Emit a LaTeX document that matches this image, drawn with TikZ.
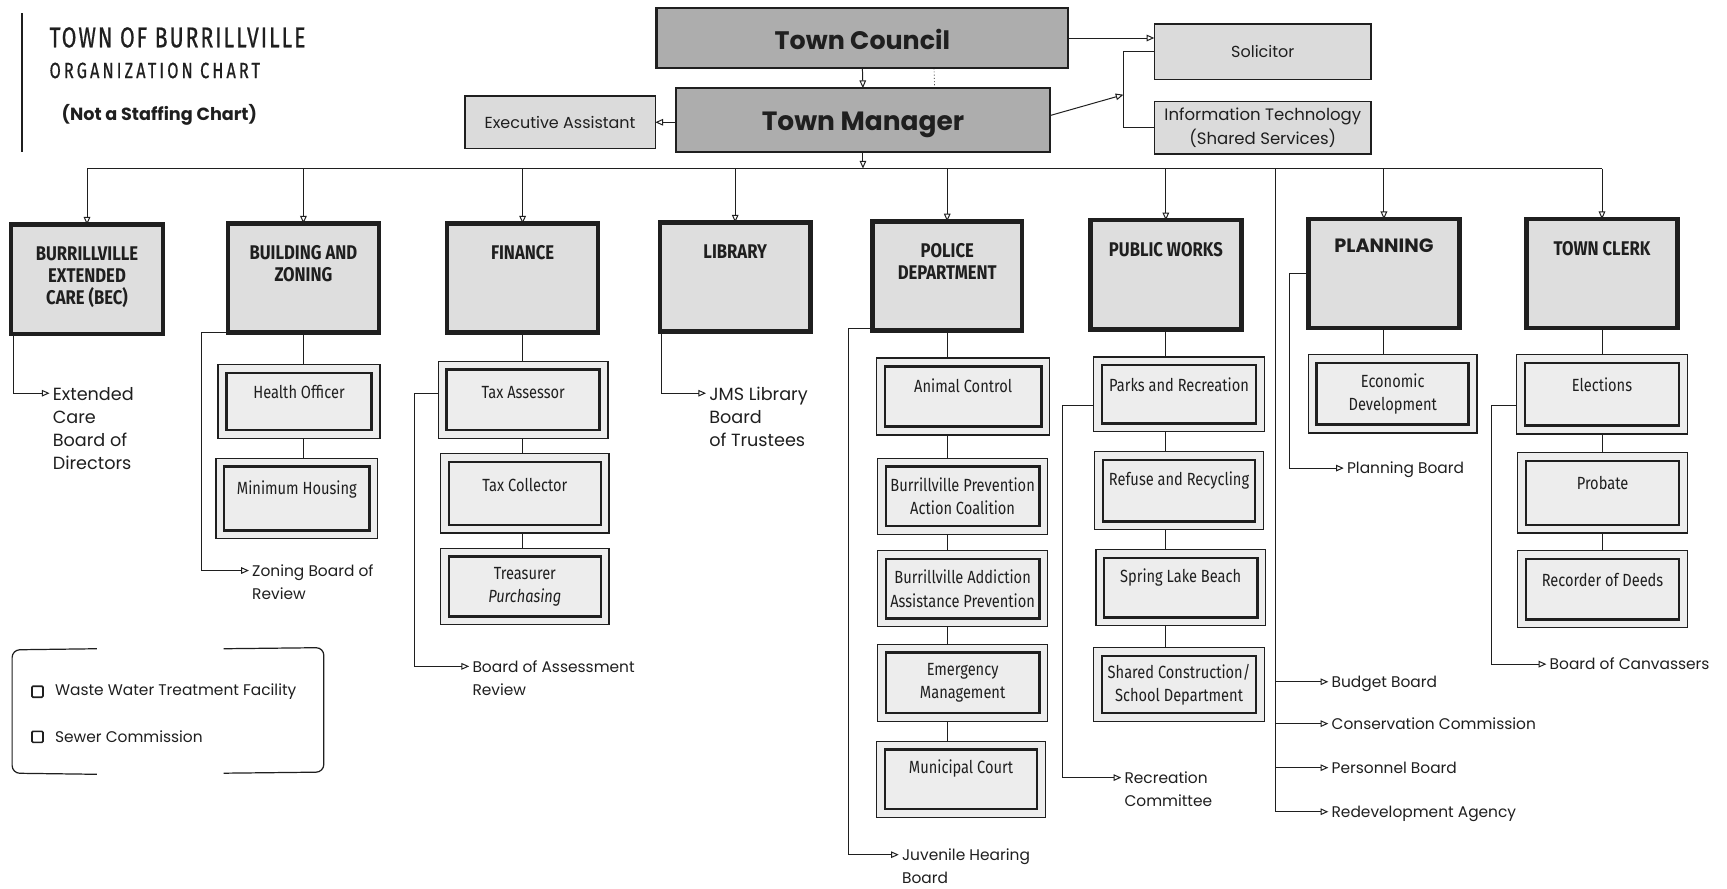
\documentclass[tikz,border=0pt]{standalone}
\usepackage{fontspec}
\setmainfont{Poppins}
\newfontfamily\condf[FakeStretch=0.83]{Fira Sans}
\newfontfamily\deptf[FakeStretch=0.84]{Fira Sans}
\newfontfamily\titlef[FakeStretch=0.74,LetterSpace=7,FakeBold=0.6]{Fira Sans}
\newfontfamily\titleg[FakeStretch=0.74,LetterSpace=14,FakeBold=0.6]{Fira Sans}
\usetikzlibrary{arrows.meta,calc}
\definecolor{inkc}{gray}{0.12}
\definecolor{topfill}{gray}{0.68}
\definecolor{asstfill}{gray}{0.86}
\definecolor{deptfill}{gray}{0.87}
\definecolor{subfill}{gray}{0.93}
\tikzset{
 every node/.style={inner sep=0pt, outer sep=0pt, text=inkc},
 topbox/.style={draw=inkc, line width=2pt, fill=topfill},
 asstbox/.style={draw=inkc, line width=1.4pt, fill=asstfill},
 deptbox/.style={draw=inkc, line width=4pt, fill=deptfill},
 subout/.style={draw=inkc, line width=1.2pt, fill=subfill},
 subin/.style={draw=inkc, line width=2.4pt},
 subtxt/.style={font={\condf\fontsize{16}{21}\selectfont}, align=center},
 depttxt/.style={font={\deptf\bfseries\fontsize{18}{20}\selectfont}, align=center, anchor=north},
 lbl/.style={font={\fontsize{14}{21}\selectfont}, align=left, outer sep=3pt},
 biglbl/.style={lbl, font={\fontsize{16}{21}\selectfont}},
 conn/.style={draw=inkc, line width=0.9pt},
 arr/.style={conn, -{Triangle[open, length=7pt, width=6pt, line width=0.9pt]}},
 chk/.style={draw=inkc, line width=1.5pt, minimum size=10pt, rounded corners=1pt},
}
% box from corners: style, name, x1, x2, y1, y2
\newcommand\mkbox[6]{\node[#1, minimum width={#4-#3}, minimum height={#6-#5}] (#2) at ({(#3+#4)/2},{(#5+#6)/2}) {};}
% sub box: name, x1, x2, y1, y2, dy, text
\newcommand\mksub[7]{\mkbox{subout}{#1}{#2}{#3}{#4}{#5}
 \node[subin, minimum width={#3-#2-15}, minimum height={#5-#4-15}] (#1i) at (#1.center) {};
 \node[subtxt] (#1t) at ($(#1.center)+(0,#6)$) {#7};}
% department: name, x1, x2, ytop, text
\newcommand\mkdept[5]{\mkbox{deptbox}{#1}{#2}{#3}{#4}{#4+99}
 \node[depttxt] (#1t) at ($(#1.north)+(0,20)$) {#5};}
% label: style, name, x, y (first line centre), text
\newcommand\mlbl[5]{\node[#1, anchor=north west] (#2) at ({#3-3},{#4-8.4}) {#5};
 \coordinate (#2-a) at ($(#2.north west)+(0,8.4)$);}
\begin{document}
\begin{tikzpicture}[x=1pt,y=-1pt]
\useasboundingbox (0,0) rectangle (1568,807);
\fill[white] (0,0) rectangle (1568,807);
% title
\draw[line width=1.4pt, inkc] (20,12) -- (20,138);
\node[anchor=west, font={\titlef\fontsize{26}{26}\selectfont}] (t1) at (45,34) {TOWN OF BURRILLVILLE};
\node[anchor=west, font={\titleg\fontsize{20}{20}\selectfont}] (t2) at (45,64) {ORGANIZATION CHART};
\node[anchor=west, font={\bfseries\fontsize{16}{16}\selectfont}] (t3) at (56,104) {(Not a Staffing Chart)};
% top level
\mkbox{topbox}{tc}{596}{970}{7}{62}
\node[font={\bfseries\fontsize{23}{23}\selectfont}] (tct) at ($(tc.center)+(0,1)$) {Town Council};
\mkbox{topbox}{tm}{614}{953}{80}{138}
\node[font={\bfseries\fontsize{24}{24}\selectfont}] (tmt) at ($(tm.center)+(0,4)$) {Town Manager};
\mkbox{asstbox}{ea}{422}{595}{87}{135}
\node[font={\fontsize{14.5}{14.5}\selectfont}] (eat) at (ea.center) {Executive Assistant};
\mkbox{asstbox}{sol}{1048}{1245}{22}{72}
\node[font={\fontsize{14.5}{14.5}\selectfont}] (solt) at (sol.center) {Solicitor};
\mkbox{asstbox}{it}{1048}{1245}{92}{140}
\node[align=center, font={\fontsize{15}{21}\selectfont}] (itt) at (it.center) {Information Technology\\(Shared Services)};
\draw[arr] (tc.south) -- (tm.north);
\draw[conn, dotted, line width=0.6pt] ($(tc.south)+(65,0)$) -- ($(tm.north)+(65,0)$);
\draw[arr] (tm.west |- ea.east) -- (ea.east);
\coordinate (solin) at (sol.west |- tc.east);
\draw[arr] (tc.east) -- (solin);
\coordinate (brA) at (1020,86);
\draw[conn] (sol.west) -| (brA) |- (it.west);
\draw[arr] ($(tm.east)+(0,-4)$) -- (brA);
% bus
\coordinate (busL) at (79,153);
\coordinate (busR) at (1454.5,153);
\draw[conn] (busL) -- (busR);
\draw[arr] (tm.south) -- (tm.south |- busL);
% departments
\mkdept{bec}{10}{148}{204}{BURRILLVILLE\\EXTENDED\\CARE (BEC)}
\mkdept{bz}{207}{344}{203}{BUILDING AND\\ZONING}
\mkdept{fin}{406}{543}{203}{FINANCE}
\mkdept{lib}{599}{736}{202}{LIBRARY}
\mkdept{pol}{792}{928}{201}{POLICE\\DEPARTMENT}
\mkdept{pw}{990}{1127}{200}{PUBLIC WORKS}
\mkbox{deptbox}{plan}{1188}{1325}{199}{298}
\node[anchor=north, font={\bfseries\fontsize{17.5}{17.5}\selectfont}] (plant) at ($(plan.north)+(0,18)$) {PLANNING};
\mkdept{tcl}{1386}{1523}{199}{TOWN CLERK}
\foreach \d in {bec,bz,fin,lib,pol,pw,plan,tcl} \draw[arr] (\d.north |- busL) -- (\d.north);
% sub boxes
\mksub{ho}{198}{345}{331}{398}{-9}{Health Officer}
\mksub{mh}{196}{343}{416}{489}{-8}{Minimum Housing}
\mksub{ta}{398}{552}{328}{398}{-7}{Tax Assessor}
\mksub{tco}{400}{553}{412}{484}{-8}{Tax Collector}
\mksub{tr}{400}{553}{498}{567}{0}{Treasurer\\\textit{Purchasing}}
\mksub{ac}{796}{953}{325}{395}{-10}{Animal Control}
\mksub{bpac}{797}{951}{416}{485}{0}{Burrillville Prevention\\Action Coalition}
\mksub{baap}{797}{951}{500}{569}{0}{Burrillville Addiction\\Assistance Prevention}
\mksub{em}{797}{951}{585}{655}{0}{Emergency\\Management}
\mksub{mc}{796}{949}{673}{742}{-10}{Municipal Court}
\mksub{pr}{993}{1148}{324}{392}{-9}{Parks and Recreation}
\mksub{rr}{994}{1147}{410}{481}{-9}{Refuse and Recycling}
\mksub{slb}{995}{1149}{499}{568}{-9}{Spring Lake Beach}
\mksub{sc}{993}{1148}{588}{655}{0}{Shared Construction/\\School Department}
\mksub{ed}{1188}{1341}{322}{393}{0}{Economic\\Development}
\mksub{el}{1377}{1532}{322}{394}{-9}{Elections}
\mksub{pb}{1378}{1532}{411}{484}{-9}{Probate}
\mksub{rd}{1378}{1532}{500}{570}{-8}{Recorder of Deeds}
% spines
\draw[conn] (bz.south) -- (bz.south |- ho.north);
\draw[conn] (ho.south -| bz.south) -- (mh.north -| bz.south);
\draw[conn] (fin.south) -- (fin.south |- ta.north);
\draw[conn] (ta.south -| fin.south) -- (tco.north -| fin.south);
\draw[conn] (tco.south -| fin.south) -- (tr.north -| fin.south);
\draw[conn] (pol.south) -- (pol.south |- ac.north);
\draw[conn] (ac.south -| pol.south) -- (bpac.north -| pol.south);
\draw[conn] (bpac.south -| pol.south) -- (baap.north -| pol.south);
\draw[conn] (baap.south -| pol.south) -- (em.north -| pol.south);
\draw[conn] (em.south -| pol.south) -- (mc.north -| pol.south);
\draw[conn] (pw.south) -- (pw.south |- pr.north);
\draw[conn] (pr.south -| pw.south) -- (rr.north -| pw.south);
\draw[conn] (rr.south -| pw.south) -- (slb.north -| pw.south);
\draw[conn] (slb.south -| pw.south) -- (sc.north -| pw.south);
\draw[conn] (plan.south) -- (plan.south |- ed.north);
\draw[conn] (tcl.south) -- (tcl.south |- el.north);
\draw[conn] (el.south -| tcl.south) -- (pb.north -| tcl.south);
\draw[conn] (pb.south -| tcl.south) -- (rd.north -| tcl.south);
% labels
\mlbl{biglbl}{ext}{48}{357}{Extended\\Care\\Board of\\Directors}
\mlbl{lbl}{zbr}{229}{518}{Zoning Board of\\Review}
\mlbl{lbl}{bar}{429}{605}{Board of Assessment\\Review}
\mlbl{biglbl}{jms}{644}{357}{JMS Library\\Board\\of Trustees}
\mlbl{lbl}{jhb}{819}{776}{Juvenile Hearing\\Board}
\mlbl{lbl}{rec}{1021}{706}{Recreation\\Committee}
\mlbl{lbl}{pbd}{1223}{425}{Planning Board}
\mlbl{lbl}{boc}{1407}{603}{Board of Canvassers}
\mlbl{lbl}{budget}{1209}{619}{Budget Board}
\mlbl{lbl}{cons}{1209}{657}{Conservation Commission}
\mlbl{lbl}{pers}{1209}{697}{Personnel Board}
\mlbl{lbl}{redev}{1209}{737}{Redevelopment Agency}
% side connectors
\draw[arr] ($(bec.south west)+(2,0)$) |- (ext-a);
\draw[arr] (bz.south west) -- ++(-24,0) |- (zbr-a);
\draw[arr] ($(ta.west)+(0,-6)$) -- ++(-22,0) |- (bar-a);
\draw[arr] ($(lib.south west)+(2,0)$) |- (jms-a);
\draw[arr] ($(pol.south west)+(0,-2)$) -- ++(-22,0) |- (jhb-a);
\draw[arr] ($(pr.west)+(0,10)$) -- ++(-28,0) |- (rec-a);
\draw[arr] (plan.west) -- ++(-17,0) |- (pbd-a);
\draw[arr] ($(el.west)+(0,10)$) -- ++(-23,0) |- (boc-a);
\coordinate (vtop) at (1158,153);
\draw[arr] (vtop) |- (redev-a);
\foreach \n in {budget,cons,pers} \draw[arr] (\n-a -| vtop) -- (\n-a);
% legend
\draw[conn, line width=1.1pt, rounded corners=7pt] (88,589) -- (11,590) -- (11,702) -- (88,703);
\draw[conn, line width=1.1pt, rounded corners=7pt] (203,589) -- (294,588) -- (294,701) -- (203,702);
\node[chk] (k1) at (34,628) {};
\node[lbl, anchor=west] (ww) at (47,628) {Waste Water Treatment Facility};
\node[chk] (k2) at (34,669) {};
\node[lbl, anchor=west] (sw) at (47,669) {Sewer Commission};
\end{tikzpicture}
\end{document}
